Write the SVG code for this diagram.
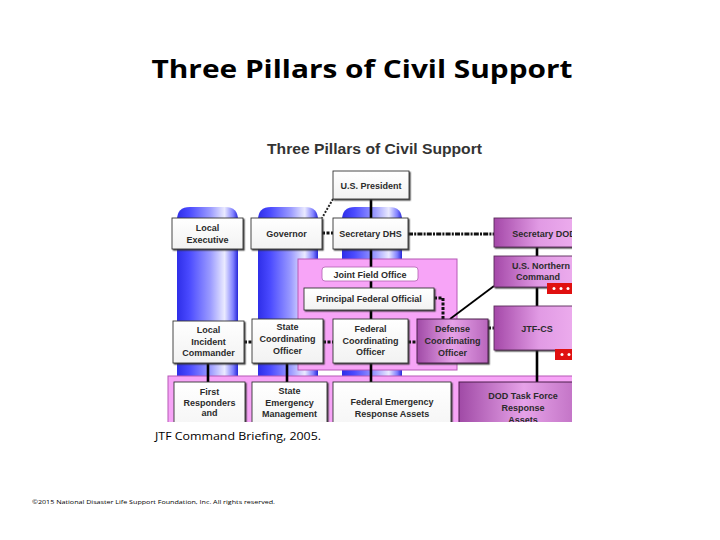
<svg xmlns="http://www.w3.org/2000/svg" width="720" height="540" viewBox="0 0 720 540">
<defs>
<linearGradient id="pil" x1="0" y1="0" x2="1" y2="0">
<stop offset="0" stop-color="#2e2ee8"/><stop offset="0.2" stop-color="#4a4aff"/><stop offset="0.55" stop-color="#9c9cff"/><stop offset="0.78" stop-color="#eaeaff"/><stop offset="0.92" stop-color="#8080ff"/><stop offset="1" stop-color="#2828d8"/>
</linearGradient>
<linearGradient id="wg" x1="0" y1="0" x2="0" y2="1"><stop offset="0" stop-color="#ffffff"/><stop offset="1" stop-color="#f2f2f2"/></linearGradient>
<linearGradient id="pg" x1="0" y1="0" x2="1" y2="0"><stop offset="0" stop-color="#a448a8"/><stop offset="0.45" stop-color="#e19ae4"/><stop offset="1" stop-color="#f2b6f2"/></linearGradient>
<linearGradient id="pg2" x1="0" y1="0" x2="1" y2="0"><stop offset="0" stop-color="#a04aa6"/><stop offset="0.5" stop-color="#e6a2e8"/><stop offset="1" stop-color="#b866bc"/></linearGradient>
<filter id="sh" x="-10%" y="-10%" width="130%" height="140%"><feDropShadow dx="1.3" dy="1.3" stdDeviation="0.4" flood-color="#333" flood-opacity="0.85"/></filter>
<clipPath id="img"><rect x="165" y="130" width="407" height="292"/></clipPath>
<style>
.t{font-family:"Liberation Sans",Arial,Helvetica,sans-serif;font-weight:bold;font-size:9px;fill:#2b2b2b;text-anchor:middle}
.wb{fill:url(#wg);stroke:#333;stroke-width:0.9;filter:url(#sh)}
.pb{fill:url(#pg);stroke:#5a2a5a;stroke-width:0.9;filter:url(#sh)}
.pk{fill:#f7a4f7;stroke:#b558b5;stroke-width:1}
.pil{fill:url(#pil)}
.sl{stroke:#000;stroke-width:2.6;fill:none}
.dl{stroke:#111;stroke-width:3;fill:none;stroke-dasharray:3 1.5}
.red{fill:#e01010}
.star{fill:#fff}
</style>
</defs>
<rect width="720" height="540" fill="#fff"/>
<text x="362" y="78" font-family="'Open Sans','Noto Sans','Liberation Sans',sans-serif" font-weight="bold" font-size="25" text-anchor="middle" textLength="421" lengthAdjust="spacingAndGlyphs" fill="#000">Three Pillars of Civil Support</text>

<g clip-path="url(#img)">
<text x="374.5" y="154" font-family="'Liberation Sans',Arial,sans-serif" font-weight="bold" font-size="14.5" text-anchor="middle" textLength="215" lengthAdjust="spacingAndGlyphs" fill="#333">Three Pillars of Civil Support</text>

<g id="pillars">
<path class="pil" d="M177,385 V220 Q177,207 190,207 H225 Q238,207 238,220 V385 Z"/>
<path class="pil" d="M258,385 V220 Q258,207 271,207 H305 Q318,207 318,220 V385 Z"/>
<path class="pil" d="M342,385 V220 Q342,207 355,207 H389 Q402,207 402,220 V385 Z"/>
</g>

<g id="joint-field-office-area"><rect class="pk" x="298" y="259" width="159" height="111"/></g>
<g id="response-assets-area"><rect class="pk" x="168" y="376" width="420" height="70"/></g>

<g id="connectors">
<path class="sl" d="M371,199 V218 M371,249 V267 M371,281 V288 M371,310 V319 M371,363 V382 M208,363 V382 M287,363 V382 M537,247 V256 M537,287 V306 M537,350 V382"/>
<path d="M494,286 L450,319" stroke="#000" stroke-width="1.8" fill="none"/>
<path d="M333,199 L322,218" stroke="#222" stroke-width="2" stroke-dasharray="2 1.5" fill="none"/>
<path class="dl" d="M322,233 H333 M244,342 H252 M323,342 H333 M408,342 H417 M488,328 H494 M434,298 H443 V319"/>
<path d="M408,234 H494" stroke="#111" stroke-width="3" stroke-dasharray="5 1.2 2 1.2" fill="none"/>
</g>

<g id="us-president"><rect class="wb" x="333" y="171" width="76" height="28"/><text class="t" x="371" y="188.5">U.S. President</text></g>
<g id="local-executive"><rect class="wb" x="172" y="218" width="71" height="31"/><text class="t" x="207.5" y="231">Local</text><text class="t" x="207.5" y="243">Executive</text></g>
<g id="governor"><rect class="wb" x="251" y="218" width="71" height="31"/><text class="t" x="286.5" y="236.5">Governor</text></g>
<g id="secretary-dhs"><rect class="wb" x="333" y="218" width="75" height="31"/><text class="t" x="370.5" y="236.5">Secretary DHS</text></g>
<g id="secretary-dod"><rect class="pb" x="494" y="218" width="100" height="29"/><text class="t" x="544" y="236.5" font-size="10">Secretary DOD</text></g>
<g id="us-northern-command"><rect class="pb" x="494" y="256" width="100" height="31"/><text class="t" x="541" y="268.5">U.S. Northern</text><text class="t" x="538" y="279.5">Command</text>
<rect class="red" x="547" y="283" width="40" height="11"/><circle class="star" cx="554" cy="288.5" r="1.5"/><circle class="star" cx="561" cy="288.5" r="1.5"/><circle class="star" cx="568" cy="288.5" r="1.5"/></g>
<g id="jtf-cs"><rect class="pb" x="494" y="306" width="100" height="44"/><text class="t" x="537" y="332" font-size="11">JTF-CS</text>
<rect class="red" x="555" y="349" width="35" height="11"/><circle class="star" cx="562" cy="354.5" r="1.5"/><circle class="star" cx="569" cy="354.5" r="1.5"/></g>
<g id="joint-field-office"><rect x="322" y="267" width="96" height="14" rx="3" fill="#fff" stroke="#b060b0" stroke-width="0.8"/><text class="t" x="370" y="277.5" font-size="10">Joint Field Office</text></g>
<g id="principal-federal-official"><rect class="wb" x="304" y="288" width="130" height="22"/><text class="t" x="369" y="302">Principal Federal Official</text></g>
<g id="local-incident-commander"><rect class="wb" x="173" y="321" width="71" height="42"/><text class="t" x="208.5" y="333">Local</text><text class="t" x="208.5" y="344.5">Incident</text><text class="t" x="208.5" y="356">Commander</text></g>
<g id="state-coordinating-officer"><rect class="wb" x="252" y="319" width="71" height="44"/><text class="t" x="287.5" y="330">State</text><text class="t" x="287.5" y="342">Coordinating</text><text class="t" x="287.5" y="354">Officer</text></g>
<g id="federal-coordinating-officer"><rect class="wb" x="333" y="319" width="75" height="44"/><text class="t" x="370.5" y="332">Federal</text><text class="t" x="370.5" y="343.5">Coordinating</text><text class="t" x="370.5" y="355">Officer</text></g>
<g id="defense-coordinating-officer"><rect x="417" y="319" width="71" height="44" fill="url(#pg2)" stroke="#4a1f4a" stroke-width="1" filter="url(#sh)"/><text class="t" x="452.5" y="332">Defense</text><text class="t" x="452.5" y="344">Coordinating</text><text class="t" x="452.5" y="356">Officer</text></g>
<g id="first-responders"><rect class="wb" x="174" y="382" width="71" height="60"/><text class="t" x="209.5" y="395">First</text><text class="t" x="209.5" y="406">Responders</text><text class="t" x="209.5" y="415.5" font-size="5.5">and</text></g>
<g id="state-emergency-management"><rect class="wb" x="252" y="382" width="75" height="60"/><text class="t" x="289.5" y="394">State</text><text class="t" x="289.5" y="405.5">Emergency</text><text class="t" x="289.5" y="417">Management</text></g>
<g id="federal-emergency-response-assets"><rect class="wb" x="333" y="382" width="118" height="60"/><text class="t" x="392" y="405">Federal Emergency</text><text class="t" x="392" y="416.5">Response Assets</text></g>
<g id="dod-task-force"><rect x="459" y="382" width="130" height="60" fill="url(#pg2)" stroke="#4a1f4a" stroke-width="1"/><text class="t" x="523" y="399" font-size="10">DOD Task Force</text><text class="t" x="523" y="411" font-size="10">Response</text><text class="t" x="523" y="423" font-size="10">Assets</text></g>
</g>

<text x="155" y="440" font-family="'Open Sans','Noto Sans','Liberation Sans',sans-serif" font-size="11.5" textLength="166" lengthAdjust="spacingAndGlyphs" fill="#000">JTF Command Briefing, 2005.</text>
<text x="32" y="504" font-family="'Open Sans','Noto Sans','Liberation Sans',sans-serif" font-size="6" textLength="243" lengthAdjust="spacingAndGlyphs" fill="#000">©2015 National Disaster Life Support Foundation, Inc. All rights reserved.</text>
</svg>
